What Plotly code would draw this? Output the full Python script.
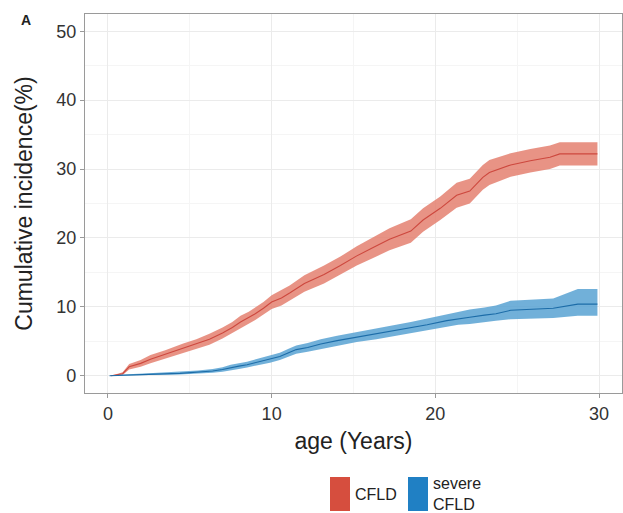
import plotly.graph_objects as go

# ---- data ----
red_age = [0.2, 0.9, 1.3, 2.0, 2.6, 3.5, 4.6, 5.4, 6.2, 7.0, 7.6, 8.1, 8.6, 9.0, 9.5, 10.0, 10.6, 11.1,
           12.0, 13.2, 14.2, 15.2, 16.2, 17.2, 18.5, 19.25, 20.3, 21.3, 22.1, 22.9, 23.3, 24.6, 25.8,
           27.0, 27.6, 29.9]
red_ci = [0, 0.3, 1.3, 1.8, 2.4, 3.1, 4.0, 4.6, 5.3, 6.2, 7.0, 7.8, 8.4, 9.0, 9.8, 10.7, 11.3, 12.0,
          13.4, 14.7, 16.0, 17.4, 18.6, 19.8, 21.0, 22.6, 24.3, 26.2, 26.8, 28.8, 29.5, 30.6, 31.2,
          31.7, 32.2, 32.2]
red_hi = [0, 0.5, 1.7, 2.3, 3.0, 3.7, 4.7, 5.3, 6.1, 7.0, 7.8, 8.7, 9.3, 9.9, 10.7, 11.7, 12.4, 13.1,
          14.6, 16.0, 17.3, 18.8, 20.1, 21.4, 22.7, 24.3, 26.0, 28.0, 28.6, 30.6, 31.3, 32.3, 32.9,
          33.4, 33.9, 33.9]
red_lo = [0, 0.1, 0.9, 1.3, 1.8, 2.5, 3.3, 3.9, 4.5, 5.4, 6.2, 6.9, 7.5, 8.1, 8.9, 9.7, 10.2, 10.9,
          12.2, 13.4, 14.7, 16.0, 17.1, 18.2, 19.3, 20.9, 22.6, 24.4, 25.0, 27.0, 27.7, 28.9, 29.5,
          30.0, 30.5, 30.5]

blue_age = [0.1, 0.9, 2.5, 4.4, 5.5, 6.4, 7.0, 7.5, 8.0, 8.5, 9.2, 9.9, 10.5, 11.0, 11.5, 12.2, 13.0,
            14.0, 15.2, 16.4, 17.6, 18.5, 19.5, 20.7, 21.4, 22.1, 23.0, 23.7, 24.6, 27.2, 28.7, 29.9]
blue_ci = [0, 0.1, 0.2, 0.35, 0.5, 0.7, 0.9, 1.2, 1.4, 1.6, 2.0, 2.4, 2.8, 3.3, 3.8, 4.1, 4.6, 5.1,
           5.6, 6.1, 6.6, 6.9, 7.4, 8.0, 8.3, 8.5, 8.8, 9.0, 9.5, 9.8, 10.4, 10.4]
blue_hi = [0, 0.2, 0.35, 0.55, 0.75, 1.0, 1.25, 1.6, 1.8, 2.05, 2.5, 2.9, 3.35, 3.9, 4.4, 4.75, 5.3,
           5.8, 6.3, 6.9, 7.4, 7.8, 8.3, 8.9, 9.3, 9.6, 9.9, 10.2, 10.9, 11.2, 12.6, 12.6]
blue_lo = [0, 0.0, 0.1, 0.2, 0.3, 0.45, 0.6, 0.85, 1.0, 1.2, 1.5, 1.9, 2.3, 2.7, 3.2, 3.5, 3.9, 4.4,
           4.9, 5.3, 5.8, 6.1, 6.5, 7.1, 7.4, 7.5, 7.8, 8.0, 8.2, 8.4, 8.7, 8.7]

x_ticks = [0, 10, 20, 30]
y_ticks = [0, 10, 20, 30, 40, 50]
legend_labels = ["CFLD", "severe<br>CFLD"]

RED_BAND = "rgba(228,128,112,0.85)"
RED_LINE = "rgb(205,72,62)"
BLUE_BAND = "rgba(88,162,210,0.85)"
BLUE_LINE = "rgb(28,108,168)"
RED_KEY = "rgb(214,78,62)"
BLUE_KEY = "rgb(32,128,196)"

fig = go.Figure()

for age, ci, lo, hi, band, line, name in [
    (red_age, red_ci, red_lo, red_hi, RED_BAND, RED_LINE, "CFLD"),
    (blue_age, blue_ci, blue_lo, blue_hi, BLUE_BAND, BLUE_LINE, "severe CFLD"),
]:
    fig.add_trace(go.Scatter(x=age, y=hi, mode="lines", line=dict(width=0),
                             showlegend=False, hoverinfo="skip"))
    fig.add_trace(go.Scatter(x=age, y=lo, mode="lines", line=dict(width=0),
                             fill="tonexty", fillcolor=band, showlegend=False, hoverinfo="skip"))
    fig.add_trace(go.Scatter(x=age, y=ci, mode="lines", name=name,
                             line=dict(color=line, width=1.1), showlegend=False))

FONT = "Liberation Sans, Arial, sans-serif"

fig.update_layout(
    width=623, height=513,
    margin=dict(l=85, r=1, t=14, b=120),
    paper_bgcolor="white", plot_bgcolor="white",
    font=dict(family=FONT, color="#333333"),
    showlegend=False,
)

axis_common = dict(
    showline=True, mirror=True, linecolor="#9a9a9a", linewidth=1.2,
    ticks="outside", ticklen=4, tickcolor="#9a9a9a", tickwidth=1,
    showgrid=True, gridcolor="#ebebeb", gridwidth=1,
    zeroline=False, tickfont=dict(size=18, color="#333333", family=FONT),
    automargin=False,
    minor=dict(showgrid=True, gridcolor="#f5f5f5", gridwidth=0.6, dtick=5, tick0=0),
)

fig.update_xaxes(range=[-1.4, 31.4], tickvals=x_ticks, ticktext=[str(v) for v in x_ticks],
                 title=dict(text="age (Years)", font=dict(size=23, color="#222222", family=FONT), standoff=10),
                 **axis_common)
fig.update_yaxes(range=[-2.5, 52.5], tickvals=y_ticks, ticktext=[str(v) for v in y_ticks],
                 title=dict(text="Cumulative incidence(%)", font=dict(size=23, color="#222222", family=FONT),
                            standoff=17),
                 **axis_common)

pw = 623 - 85 - 1
ph = 513 - 14 - 120

# panel tag
fig.add_annotation(text="<b>A</b>", xref="paper", yref="paper", x=(26 - 85) / pw, y=(393 - 20) / ph,
                   xanchor="center", yanchor="middle", showarrow=False,
                   font=dict(size=14, color="#222222", family=FONT))

# custom legend (keys below the panel)
keys = [(RED_KEY, legend_labels[0], 330, 350), (BLUE_KEY, legend_labels[1], 408, 428)]
for color, label, x0px, x1px in keys:
    fx0 = (x0px - 85) / pw
    fx1 = (x1px - 85) / pw
    fy0 = (393 - 511) / ph
    fy1 = (393 - 477) / ph
    fig.add_shape(type="rect", xref="paper", yref="paper", x0=fx0, x1=fx1, y0=fy0, y1=fy1,
                  fillcolor=color, line=dict(width=0))
    fig.add_annotation(text=label, xref="paper", yref="paper", x=fx1 + 3 / pw, y=(393 - 494) / ph,
                       xanchor="left", yanchor="middle", align="left", showarrow=False,
                       font=dict(size=16, color="#222222", family=FONT))

fig.write_html("out.html")
